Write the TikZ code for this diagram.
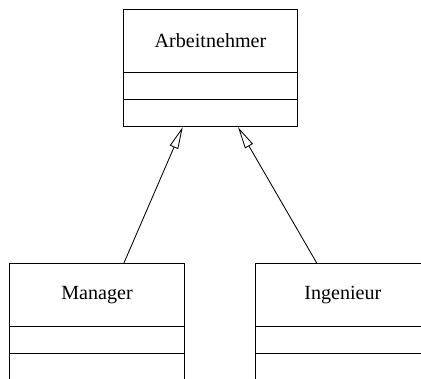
\documentclass[tikz,border=0pt]{standalone}
\usepackage{fontspec}
\setmainfont{Liberation Serif}
\usetikzlibrary{arrows.meta,calc}

\tikzset{
  classbox/.style={draw, line width=0.85pt, minimum width=174.4pt, minimum height=117.4pt, inner sep=0pt},
  classname/.style={font=\fontsize{20.1pt}{24pt}\selectfont, inner sep=0pt},
  divider/.style={line width=0.85pt},
  inherits/.style={line width=0.85pt, -{Triangle[open, length=22pt, width=9pt, line width=0.85pt]}}
}

\begin{document}
\begin{tikzpicture}[x=1pt, y=1pt]
  \clip (0,0) rectangle (421,379);
  \useasboundingbox (0,0) rectangle (421,379);

  % superclass
  \node[classbox] (arb) at (210.5,311) {};
  \node[classname] (arbname) at ($(arb.north)+(0,-32)$) {Arbeitnehmer};
  \draw[divider] ($(arb.north west)+(0,-64)$) -- ($(arb.north east)+(0,-64)$);
  \draw[divider] ($(arb.north west)+(0,-90.7)$) -- ($(arb.north east)+(0,-90.7)$);

  % subclasses
  \node[classbox] (man) at (97,57) {};
  \node[classname] (manname) at ($(man.north)+(0,-32)$) {Manager};
  \draw[divider] ($(man.north west)+(0,-64)$) -- ($(man.north east)+(0,-64)$);
  \draw[divider] ($(man.north west)+(0,-90.7)$) -- ($(man.north east)+(0,-90.7)$);

  \node[classbox] (ing) at (342.85,57) {};
  \node[classname] (ingname) at ($(ing.north)+(0,-32)$) {Ingenieur};
  \draw[divider] ($(ing.north west)+(0,-64)$) -- ($(ing.north east)+(0,-64)$);
  \draw[divider] ($(ing.north west)+(0,-90.7)$) -- ($(ing.north east)+(0,-90.7)$);

  % generalisation arrows
  \coordinate (manTop) at ($(man.north)+(27,0)$);
  \coordinate (arbL) at ($(arb.south)+(-27.8,0)$);
  \coordinate (ingTop) at ($(ing.north)+(-26.2,0)$);
  \coordinate (arbR) at ($(arb.south)+(27.5,0)$);
  \draw[inherits] (manTop) -- (arbL);
  \draw[inherits] (ingTop) -- (arbR);
\end{tikzpicture}
\end{document}
